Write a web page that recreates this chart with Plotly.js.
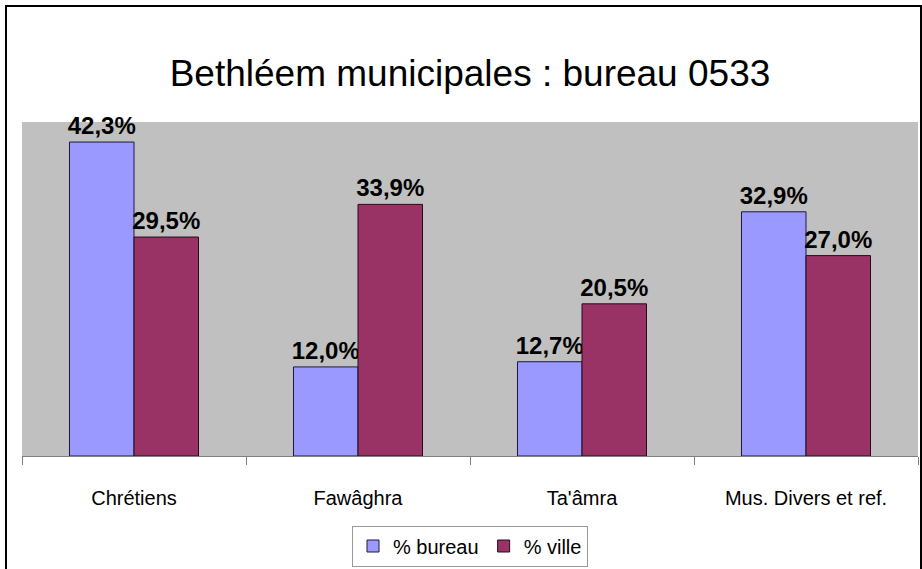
<!DOCTYPE html>
<html>
<head>
<meta charset="utf-8">
<script src="https://cdn.plot.ly/plotly-3.0.1.min.js"></script>
<style>
  html, body { margin: 0; padding: 0; background: #ffffff; }
  #wrap { position: relative; width: 922px; height: 569px; overflow: hidden; }
  #chart { position: absolute; left: 0; top: 0; width: 922px; height: 569px; }
  #frame { position: absolute; left: 5px; top: 5px; width: 913px; height: 600px;
           border: 2px solid #000; pointer-events: none; }
</style>
</head>
<body>
<div id="wrap">
  <div id="chart"></div>
  <div id="frame"></div>
</div>
<script>
const categories = ["Chrétiens", "Fawâghra", "Ta'âmra", "Mus. Divers et ref."];
const bureauValues = [42.3, 12.0, 12.7, 32.9];
const villeValues = [29.5, 33.9, 20.5, 27.0];
const seriesNames = ["% bureau", "% ville"];
const titleText = "Bethléem municipales : bureau 0533";

const fmt = v => v.toFixed(1).replace('.', ',') + '%';
const FONT = '"Liberation Sans", Arial, sans-serif';

const labelFont = { family: FONT, size: 24, color: '#000000', weight: 'bold' };

const traces = [
  {
    type: 'bar', name: seriesNames[0], x: categories, y: bureauValues,
    text: bureauValues.map(fmt), textposition: 'outside', textangle: 0,
    constraintext: 'none', cliponaxis: false,
    textfont: labelFont, outsidetextfont: labelFont,
    marker: { color: '#9999FF', line: { color: '#1a1a40', width: 1 } },
    hoverinfo: 'skip'
  },
  {
    type: 'bar', name: seriesNames[1], x: categories, y: villeValues,
    text: villeValues.map(fmt), textposition: 'outside', textangle: 0,
    constraintext: 'none', cliponaxis: false,
    textfont: labelFont, outsidetextfont: labelFont,
    marker: { color: '#993366', line: { color: '#2a0a1a', width: 1 } },
    hoverinfo: 'skip'
  }
];

const layout = {
  width: 922, height: 569,
  margin: { l: 22, r: 4, t: 122, b: 112, pad: 0 },
  paper_bgcolor: '#ffffff',
  plot_bgcolor: '#C0C0C0',
  font: { family: FONT, color: '#000000' },
  title: {
    text: titleText,
    font: { family: FONT, size: 37, color: '#000000' },
    x: 0.5, xref: 'paper', xanchor: 'center',
    y: 1 - 73 / 569, yref: 'container', yanchor: 'middle'
  },
  barmode: 'group',
  bargap: 0.424,
  bargroupgap: 0,
  xaxis: {
    type: 'category',
    showgrid: false, zeroline: false,
    showline: true, linecolor: '#808080', linewidth: 1,
    ticks: 'outside', tickson: 'boundaries', ticklen: 8, tickcolor: '#808080', tickwidth: 1,
    tickfont: { family: FONT, size: 20, color: '#000000' },
    ticklabelstandoff: 24
  },
  yaxis: {
    range: [0, 45],
    visible: false, showgrid: false, zeroline: false, fixedrange: true
  },
  showlegend: true,
  legend: {
    orientation: 'h',
    x: 0.5, xanchor: 'center', xref: 'paper',
    y: (457 - 546) / 335, yanchor: 'middle',
    bgcolor: '#ffffff', bordercolor: '#999999', borderwidth: 1,
    font: { family: FONT, size: 20, color: '#000000' },
    itemwidth: 30, traceorder: 'normal'
  }
};

Plotly.newPlot('chart', traces, layout, { displayModeBar: false, staticPlot: true });
</script>
</body>
</html>
